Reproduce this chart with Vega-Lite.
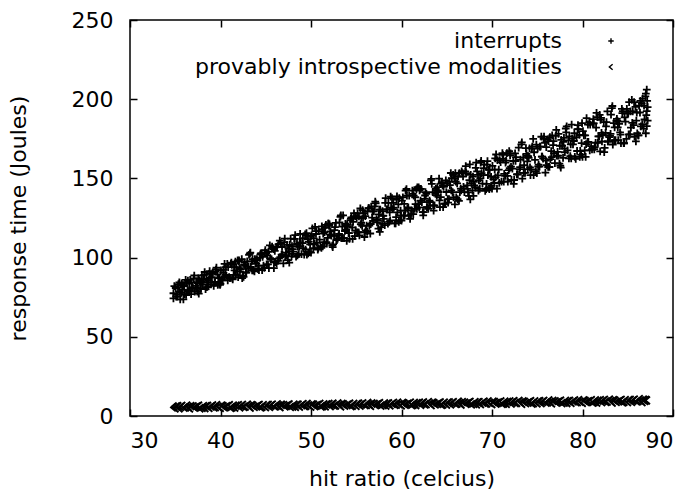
{
  "$schema": "https://vega.github.io/schema/vega-lite/v6.json",
  "width": 543,
  "height": 396,
  "autosize": {"type": "none"},
  "padding": {"left": 130, "top": 20, "right": 22, "bottom": 80},
  "background": "white",
  "config": {
    "font": "DejaVu Sans",
    "view": {"stroke": "black", "strokeWidth": 1.5},
    "axis": {
      "grid": false,
      "domain": false,
      "tickColor": "black",
      "tickSize": -7,
      "tickWidth": 1.5,
      "labelFont": "DejaVu Sans",
      "labelFontSize": 22,
      "labelColor": "black",
      "titleFont": "DejaVu Sans",
      "titleFontSize": 22,
      "titleFontWeight": "normal",
      "titleColor": "black"
    }
  },
  "datasets": {
    "interrupts": [
      {"x":34.8,"y":77.5},{"x":34.9,"y":82.0},{"x":34.8,"y":74.2},
      {"x":35.1,"y":75.4},{"x":35.3,"y":81.4},{"x":35.5,"y":78.4},{"x":35.7,"y":83.8},{"x":35.9,"y":73.6},
      {"x":36.0,"y":82.4},{"x":36.2,"y":76.4},{"x":36.4,"y":85.4},{"x":36.6,"y":79.4},{"x":36.8,"y":84.2},
      {"x":37.1,"y":88.7},{"x":37.3,"y":80.9},{"x":37.5,"y":83.9},{"x":37.6,"y":77.3},{"x":37.9,"y":85.1},
      {"x":38.0,"y":84.3},{"x":38.2,"y":89.1},{"x":38.5,"y":81.3},{"x":38.7,"y":85.5},{"x":38.8,"y":91.5},
      {"x":39.1,"y":90.0},{"x":39.4,"y":84.6},{"x":39.5,"y":92.4},{"x":39.7,"y":82.8},{"x":39.9,"y":87.0},
      {"x":40.0,"y":83.5},{"x":40.3,"y":90.5},{"x":40.4,"y":87.7},{"x":40.6,"y":94.0},{"x":40.8,"y":85.6},
      {"x":41.2,"y":96.8},{"x":41.3,"y":87.0},{"x":41.5,"y":94.0},{"x":41.7,"y":89.1},{"x":41.9,"y":98.2},
      {"x":42.0,"y":97.6},{"x":42.1,"y":93.4},{"x":42.4,"y":87.1},{"x":42.6,"y":95.5},{"x":42.8,"y":90.6},
      {"x":43.1,"y":94.1},{"x":43.3,"y":103.2},{"x":43.5,"y":92.0},{"x":43.8,"y":99.0},{"x":43.9,"y":96.2},
      {"x":44.0,"y":99.1},{"x":44.2,"y":94.9},{"x":44.4,"y":101.9},{"x":44.6,"y":92.1},{"x":44.9,"y":103.3},
      {"x":45.1,"y":95.7},{"x":45.3,"y":103.7},{"x":45.5,"y":99.7},{"x":45.7,"y":106.9},{"x":45.9,"y":93.3},
      {"x":46.0,"y":104.3},{"x":46.2,"y":96.3},{"x":46.4,"y":108.3},{"x":46.6,"y":100.3},{"x":46.8,"y":106.7},
      {"x":47.1,"y":112.0},{"x":47.3,"y":101.6},{"x":47.5,"y":105.6},{"x":47.6,"y":96.8},{"x":47.9,"y":107.2},
      {"x":48.0,"y":105.4},{"x":48.2,"y":111.8},{"x":48.5,"y":101.4},{"x":48.7,"y":107.0},{"x":48.8,"y":115.0},
      {"x":49.1,"y":112.3},{"x":49.4,"y":105.1},{"x":49.5,"y":115.5},{"x":49.7,"y":102.7},{"x":49.9,"y":108.3},
      {"x":50.0,"y":103.2},{"x":50.3,"y":112.2},{"x":50.4,"y":108.6},{"x":50.6,"y":116.7},{"x":50.8,"y":105.9},
      {"x":51.2,"y":119.7},{"x":51.3,"y":107.1},{"x":51.5,"y":116.1},{"x":51.7,"y":109.8},{"x":51.9,"y":121.5},
      {"x":52.0,"y":120.1},{"x":52.1,"y":114.7},{"x":52.4,"y":106.6},{"x":52.6,"y":117.4},{"x":52.8,"y":111.1},
      {"x":53.1,"y":115.0},{"x":53.3,"y":126.7},{"x":53.5,"y":112.3},{"x":53.8,"y":121.3},{"x":53.9,"y":117.7},
      {"x":54.0,"y":120.8},{"x":54.2,"y":115.4},{"x":54.4,"y":124.4},{"x":54.6,"y":111.8},{"x":54.9,"y":126.2},
      {"x":55.1,"y":116.0},{"x":55.3,"y":126.0},{"x":55.5,"y":121.0},{"x":55.7,"y":130.0},{"x":55.9,"y":113.0},
      {"x":56.0,"y":126.2},{"x":56.2,"y":116.2},{"x":56.4,"y":131.2},{"x":56.6,"y":121.2},{"x":56.8,"y":129.2},
      {"x":57.1,"y":135.3},{"x":57.3,"y":122.3},{"x":57.5,"y":127.3},{"x":57.6,"y":116.3},{"x":57.9,"y":129.3},
      {"x":58.0,"y":126.5},{"x":58.2,"y":134.5},{"x":58.5,"y":121.5},{"x":58.7,"y":128.5},{"x":58.8,"y":138.5},
      {"x":59.1,"y":134.6},{"x":59.4,"y":125.6},{"x":59.5,"y":138.6},{"x":59.7,"y":122.6},{"x":59.9,"y":129.6},
      {"x":60.0,"y":123.3},{"x":60.3,"y":133.9},{"x":60.4,"y":129.6},{"x":60.6,"y":139.1},{"x":60.8,"y":126.5},
      {"x":61.2,"y":142.3},{"x":61.3,"y":127.5},{"x":61.5,"y":138.1},{"x":61.7,"y":130.7},{"x":61.9,"y":144.4},
      {"x":62.0,"y":142.4},{"x":62.1,"y":136.0},{"x":62.4,"y":126.6},{"x":62.6,"y":139.2},{"x":62.8,"y":131.8},
      {"x":63.1,"y":136.0},{"x":63.3,"y":149.7},{"x":63.5,"y":132.9},{"x":63.8,"y":143.4},{"x":63.9,"y":139.2},
      {"x":64.0,"y":142.5},{"x":64.2,"y":136.1},{"x":64.4,"y":146.7},{"x":64.6,"y":131.9},{"x":64.9,"y":148.8},
      {"x":65.1,"y":136.9},{"x":65.3,"y":147.9},{"x":65.5,"y":142.4},{"x":65.7,"y":152.3},{"x":65.9,"y":133.6},
      {"x":66.0,"y":147.9},{"x":66.2,"y":136.9},{"x":66.4,"y":153.4},{"x":66.6,"y":142.4},{"x":66.8,"y":151.2},
      {"x":67.1,"y":157.7},{"x":67.3,"y":143.4},{"x":67.5,"y":148.9},{"x":67.6,"y":136.8},{"x":67.9,"y":151.1},
      {"x":68.0,"y":147.8},{"x":68.2,"y":156.6},{"x":68.5,"y":142.3},{"x":68.7,"y":150.0},{"x":68.8,"y":161.0},
      {"x":69.1,"y":156.5},{"x":69.4,"y":146.6},{"x":69.5,"y":160.9},{"x":69.7,"y":143.3},{"x":69.9,"y":151.0},
      {"x":70.0,"y":143.5},{"x":70.3,"y":155.5},{"x":70.4,"y":150.7},{"x":70.6,"y":161.5},{"x":70.8,"y":147.1},
      {"x":71.2,"y":164.8},{"x":71.3,"y":148.0},{"x":71.5,"y":160.0},{"x":71.7,"y":151.6},{"x":71.9,"y":167.2},
      {"x":72.0,"y":164.6},{"x":72.1,"y":157.4},{"x":72.4,"y":146.6},{"x":72.6,"y":161.0},{"x":72.8,"y":152.6},
      {"x":73.1,"y":157.1},{"x":73.3,"y":172.7},{"x":73.5,"y":153.5},{"x":73.8,"y":165.5},{"x":73.9,"y":160.7},
      {"x":74.0,"y":164.1},{"x":74.2,"y":156.9},{"x":74.4,"y":168.9},{"x":74.6,"y":152.1},{"x":74.9,"y":171.3},
      {"x":75.1,"y":157.5},{"x":75.3,"y":170.0},{"x":75.5,"y":163.7},{"x":75.7,"y":175.0},{"x":75.9,"y":153.7},
      {"x":76.0,"y":169.7},{"x":76.2,"y":157.2},{"x":76.4,"y":176.0},{"x":76.6,"y":163.4},{"x":76.8,"y":173.5},
      {"x":77.1,"y":180.6},{"x":77.3,"y":164.3},{"x":77.5,"y":170.6},{"x":77.6,"y":156.8},{"x":77.9,"y":173.1},
      {"x":78.0,"y":169.0},{"x":78.2,"y":179.0},{"x":78.5,"y":162.7},{"x":78.7,"y":171.5},{"x":78.8,"y":184.0},
      {"x":79.1,"y":178.6},{"x":79.4,"y":167.3},{"x":79.5,"y":183.6},{"x":79.7,"y":163.6},{"x":79.9,"y":172.3},
      {"x":80.0,"y":163.6},{"x":80.3,"y":177.2},{"x":80.4,"y":171.7},{"x":80.6,"y":183.9},{"x":80.8,"y":167.7},
      {"x":81.2,"y":187.4},{"x":81.3,"y":168.4},{"x":81.5,"y":182.0},{"x":81.7,"y":172.5},{"x":81.9,"y":190.1},
      {"x":82.0,"y":186.9},{"x":82.1,"y":178.7},{"x":82.4,"y":166.6},{"x":82.6,"y":182.8},{"x":82.8,"y":173.3},
      {"x":83.1,"y":178.1},{"x":83.3,"y":195.7},{"x":83.5,"y":174.1},{"x":83.8,"y":187.6},{"x":83.9,"y":182.2},
      {"x":84.0,"y":185.8},{"x":84.2,"y":177.6},{"x":84.4,"y":191.2},{"x":84.6,"y":172.2},{"x":84.9,"y":193.9},
      {"x":85.1,"y":177.8},{"x":85.3,"y":192.3},{"x":85.5,"y":185.0},{"x":85.7,"y":198.1},{"x":85.9,"y":173.4},
      {"x":86.0,"y":191.6},{"x":86.2,"y":177.1},{"x":86.4,"y":198.9},{"x":86.6,"y":184.3},{"x":86.8,"y":196.0},
      {"x":87.0,"y":203.5},{"x":87.1,"y":183.0},{"x":87.2,"y":195.0},{"x":87.0,"y":178.5},{"x":87.1,"y":206.0},
      {"x":35.05,"y":80.8},{"x":35.25,"y":75.4},{"x":35.45,"y":84.4},{"x":35.65,"y":77.8},{"x":35.85,"y":82.6},
      {"x":36.05,"y":77.0},{"x":36.25,"y":84.2},{"x":36.45,"y":78.8},{"x":36.65,"y":86.0},{"x":36.85,"y":80.6},
      {"x":37.05,"y":86.9},{"x":37.25,"y":82.1},{"x":37.45,"y":78.5},{"x":37.65,"y":85.7},{"x":37.85,"y":80.3},
      {"x":38.05,"y":83.1},{"x":38.25,"y":90.9},{"x":38.45,"y":86.7},{"x":38.65,"y":81.9},{"x":38.85,"y":87.3},
      {"x":39.05,"y":87.6},{"x":39.25,"y":82.2},{"x":39.45,"y":91.2},{"x":39.65,"y":89.4},{"x":39.85,"y":83.4},
      {"x":40.05,"y":91.9},{"x":40.25,"y":85.6},{"x":40.45,"y":96.1},{"x":40.65,"y":88.4},{"x":40.85,"y":94.0},
      {"x":41.05,"y":87.0},{"x":41.25,"y":95.4},{"x":41.45,"y":89.1},{"x":41.65,"y":97.5},{"x":41.85,"y":91.2},
      {"x":42.05,"y":98.3},{"x":42.25,"y":92.7},{"x":42.45,"y":88.5},{"x":42.65,"y":96.9},{"x":42.85,"y":90.6},
      {"x":43.05,"y":93.4},{"x":43.25,"y":102.5},{"x":43.45,"y":97.6},{"x":43.65,"y":92.0},{"x":43.85,"y":98.3},
      {"x":44.05,"y":98.4},{"x":44.25,"y":92.1},{"x":44.45,"y":102.6},{"x":44.65,"y":100.5},{"x":44.85,"y":93.5},
      {"x":45.05,"y":102.9},{"x":45.25,"y":95.7},{"x":45.45,"y":107.7},{"x":45.65,"y":98.9},{"x":45.85,"y":105.3},
      {"x":46.05,"y":97.1},{"x":46.25,"y":106.7},{"x":46.45,"y":99.5},{"x":46.65,"y":109.1},{"x":46.85,"y":101.9},
      {"x":47.05,"y":109.6},{"x":47.25,"y":103.2},{"x":47.45,"y":98.4},{"x":47.65,"y":108.0},{"x":47.85,"y":100.8},
      {"x":48.05,"y":103.8},{"x":48.25,"y":114.2},{"x":48.45,"y":108.6},{"x":48.65,"y":102.2},{"x":48.85,"y":109.4},
      {"x":49.05,"y":109.1},{"x":49.25,"y":101.9},{"x":49.45,"y":113.9},{"x":49.65,"y":111.5},{"x":49.85,"y":103.5},
      {"x":50.05,"y":114.0},{"x":50.25,"y":105.9},{"x":50.45,"y":119.4},{"x":50.65,"y":109.5},{"x":50.85,"y":116.7},
      {"x":51.05,"y":107.1},{"x":51.25,"y":117.9},{"x":51.45,"y":109.8},{"x":51.65,"y":120.6},{"x":51.85,"y":112.5},
      {"x":52.05,"y":121.0},{"x":52.25,"y":113.8},{"x":52.45,"y":108.4},{"x":52.65,"y":119.2},{"x":52.85,"y":111.1},
      {"x":53.05,"y":114.1},{"x":53.25,"y":125.8},{"x":53.45,"y":119.5},{"x":53.65,"y":112.3},{"x":53.85,"y":120.4},
      {"x":54.05,"y":119.9},{"x":54.25,"y":111.8},{"x":54.45,"y":125.3},{"x":54.65,"y":122.6},{"x":54.85,"y":113.6},
      {"x":55.05,"y":125.0},{"x":55.25,"y":116.0},{"x":55.45,"y":131.0},{"x":55.65,"y":120.0},{"x":55.85,"y":128.0},
      {"x":56.05,"y":117.2},{"x":56.25,"y":129.2},{"x":56.45,"y":120.2},{"x":56.65,"y":132.2},{"x":56.85,"y":123.2},
      {"x":57.05,"y":132.3},{"x":57.25,"y":124.3},{"x":57.45,"y":118.3},{"x":57.65,"y":130.3},{"x":57.85,"y":121.3},
      {"x":58.05,"y":124.5},{"x":58.25,"y":137.5},{"x":58.45,"y":130.5},{"x":58.65,"y":122.5},{"x":58.85,"y":131.5},
      {"x":59.05,"y":130.6},{"x":59.25,"y":121.6},{"x":59.45,"y":136.6},{"x":59.65,"y":133.6},{"x":59.85,"y":123.6},
      {"x":60.05,"y":136.0},{"x":60.25,"y":126.5},{"x":60.45,"y":142.3},{"x":60.65,"y":130.7},{"x":60.85,"y":139.1},
      {"x":61.05,"y":127.5},{"x":61.25,"y":140.2},{"x":61.45,"y":130.7},{"x":61.65,"y":143.3},{"x":61.85,"y":133.8},
      {"x":62.05,"y":143.4},{"x":62.25,"y":135.0},{"x":62.45,"y":128.7},{"x":62.65,"y":141.3},{"x":62.85,"y":131.8},
      {"x":63.05,"y":135.0},{"x":63.25,"y":148.7},{"x":63.45,"y":141.3},{"x":63.65,"y":132.9},{"x":63.85,"y":142.4},
      {"x":64.05,"y":141.4},{"x":64.25,"y":131.9},{"x":64.45,"y":147.7},{"x":64.65,"y":144.6},{"x":64.85,"y":134.0},
      {"x":65.05,"y":146.8},{"x":65.25,"y":136.9},{"x":65.45,"y":153.4},{"x":65.65,"y":141.3},{"x":65.85,"y":150.1},
      {"x":66.05,"y":138.0},{"x":66.25,"y":151.2},{"x":66.45,"y":141.3},{"x":66.65,"y":154.5},{"x":66.85,"y":144.6},
      {"x":67.05,"y":154.4},{"x":67.25,"y":145.6},{"x":67.45,"y":139.0},{"x":67.65,"y":152.2},{"x":67.85,"y":142.3},
      {"x":68.05,"y":145.6},{"x":68.25,"y":159.9},{"x":68.45,"y":152.2},{"x":68.65,"y":143.4},{"x":68.85,"y":153.3},
      {"x":69.05,"y":152.1},{"x":69.25,"y":142.2},{"x":69.45,"y":158.7},{"x":69.65,"y":155.4},{"x":69.85,"y":144.4},
      {"x":70.05,"y":157.9},{"x":70.25,"y":147.1},{"x":70.45,"y":165.1},{"x":70.65,"y":151.9},{"x":70.85,"y":161.5},
      {"x":71.05,"y":148.0},{"x":71.25,"y":162.4},{"x":71.45,"y":151.6},{"x":71.65,"y":166.0},{"x":71.85,"y":155.2},
      {"x":72.05,"y":165.8},{"x":72.25,"y":156.2},{"x":72.45,"y":149.0},{"x":72.65,"y":163.4},{"x":72.85,"y":152.6},
      {"x":73.05,"y":155.9},{"x":73.25,"y":171.5},{"x":73.45,"y":163.1},{"x":73.65,"y":153.5},{"x":73.85,"y":164.3},
      {"x":74.05,"y":162.9},{"x":74.25,"y":152.1},{"x":74.45,"y":170.1},{"x":74.65,"y":166.5},{"x":74.85,"y":154.5},
      {"x":75.05,"y":168.8},{"x":75.25,"y":157.5},{"x":75.45,"y":176.3},{"x":75.65,"y":162.5},{"x":75.85,"y":172.5},
      {"x":76.05,"y":158.4},{"x":76.25,"y":173.5},{"x":76.45,"y":162.2},{"x":76.65,"y":177.2},{"x":76.85,"y":165.9},
      {"x":77.05,"y":176.8},{"x":77.25,"y":166.8},{"x":77.45,"y":159.3},{"x":77.65,"y":174.3},{"x":77.85,"y":163.0},
      {"x":78.05,"y":166.5},{"x":78.25,"y":182.8},{"x":78.45,"y":174.0},{"x":78.65,"y":164.0},{"x":78.85,"y":175.3},
      {"x":79.05,"y":173.6},{"x":79.25,"y":162.3},{"x":79.45,"y":181.1},{"x":79.65,"y":177.4},{"x":79.85,"y":164.8},
      {"x":80.05,"y":179.9},{"x":80.25,"y":167.7},{"x":80.45,"y":188.0},{"x":80.65,"y":173.1},{"x":80.85,"y":183.9},
      {"x":81.05,"y":168.4},{"x":81.25,"y":184.7},{"x":81.45,"y":172.5},{"x":81.65,"y":188.7},{"x":81.85,"y":176.5},
      {"x":82.05,"y":188.2},{"x":82.25,"y":177.4},{"x":82.45,"y":169.3},{"x":82.65,"y":185.5},{"x":82.85,"y":173.3},
      {"x":83.05,"y":176.8},{"x":83.25,"y":194.4},{"x":83.45,"y":184.9},{"x":83.65,"y":174.1},{"x":83.85,"y":186.3},
      {"x":84.05,"y":184.4},{"x":84.25,"y":172.2},{"x":84.45,"y":192.5},{"x":84.65,"y":188.5},{"x":84.85,"y":174.9},
      {"x":85.05,"y":190.9},{"x":85.25,"y":177.8},{"x":85.45,"y":199.6},{"x":85.65,"y":183.6},{"x":85.85,"y":195.2},
      {"x":86.05,"y":178.5},{"x":86.25,"y":196.0},{"x":86.45,"y":182.9},{"x":86.65,"y":200.3},{"x":86.85,"y":187.2},
      {"x":87.05,"y":190.0},{"x":87.15,"y":199.0},{"x":87.2,"y":186.5},
      {"x":35.15,"y":76.6},{"x":35.35,"y":83.2},{"x":35.55,"y":73.6},{"x":35.75,"y":79.6},{"x":35.95,"y":82.0},
      {"x":36.15,"y":86.0},{"x":36.35,"y":79.4},{"x":36.55,"y":83.6},{"x":36.75,"y":77.0},{"x":36.95,"y":81.2},
      {"x":37.15,"y":78.5},{"x":37.35,"y":84.5},{"x":37.55,"y":86.9},{"x":37.75,"y":80.3},{"x":37.95,"y":88.7},
      {"x":38.15,"y":86.1},{"x":38.35,"y":80.1},{"x":38.55,"y":84.3},{"x":38.75,"y":89.7},{"x":38.95,"y":83.1},
      {"x":39.15,"y":90.6},{"x":39.35,"y":84.0},{"x":39.55,"y":93.6},{"x":39.75,"y":87.0},{"x":39.95,"y":82.8},
      {"x":40.15,"y":86.3},{"x":40.35,"y":92.6},{"x":40.55,"y":89.1},{"x":40.75,"y":96.1},{"x":40.95,"y":87.7},
      {"x":41.15,"y":96.1},{"x":41.35,"y":86.3},{"x":41.55,"y":91.9},{"x":41.75,"y":94.0},{"x":41.95,"y":87.7},
      {"x":42.15,"y":91.3},{"x":42.35,"y":99.0},{"x":42.55,"y":87.8},{"x":42.75,"y":94.8},{"x":42.95,"y":97.6},
      {"x":43.15,"y":101.8},{"x":43.35,"y":94.1},{"x":43.55,"y":99.0},{"x":43.75,"y":91.3},{"x":43.95,"y":96.2},
      {"x":44.15,"y":92.8},{"x":44.35,"y":99.8},{"x":44.55,"y":102.6},{"x":44.75,"y":94.9},{"x":44.95,"y":104.7},
      {"x":45.15,"y":101.3},{"x":45.35,"y":93.3},{"x":45.55,"y":98.9},{"x":45.75,"y":106.1},{"x":45.95,"y":97.3},
      {"x":46.15,"y":106.7},{"x":46.35,"y":97.9},{"x":46.55,"y":110.7},{"x":46.75,"y":101.9},{"x":46.95,"y":96.3},
      {"x":47.15,"y":100.8},{"x":47.35,"y":108.0},{"x":47.55,"y":104.0},{"x":47.75,"y":112.0},{"x":47.95,"y":102.4},
      {"x":48.15,"y":111.8},{"x":48.35,"y":100.6},{"x":48.55,"y":107.0},{"x":48.75,"y":109.4},{"x":48.95,"y":102.2},
      {"x":49.15,"y":105.9},{"x":49.35,"y":114.7},{"x":49.55,"y":101.9},{"x":49.75,"y":109.9},{"x":49.95,"y":113.1},
      {"x":50.15,"y":118.5},{"x":50.35,"y":108.6},{"x":50.55,"y":114.9},{"x":50.75,"y":105.0},{"x":50.95,"y":111.3},
      {"x":51.15,"y":106.2},{"x":51.35,"y":115.2},{"x":51.55,"y":118.8},{"x":51.75,"y":108.9},{"x":51.95,"y":121.5},
      {"x":52.15,"y":116.5},{"x":52.35,"y":107.5},{"x":52.55,"y":113.8},{"x":52.75,"y":121.9},{"x":52.95,"y":112.0},
      {"x":53.15,"y":122.2},{"x":53.35,"y":112.3},{"x":53.55,"y":126.7},{"x":53.75,"y":116.8},{"x":53.95,"y":110.5},
      {"x":54.15,"y":115.4},{"x":54.35,"y":123.5},{"x":54.55,"y":119.0},{"x":54.75,"y":128.0},{"x":54.95,"y":117.2},
      {"x":55.15,"y":128.0},{"x":55.35,"y":114.0},{"x":55.55,"y":122.0},{"x":55.75,"y":125.0},{"x":55.95,"y":116.0},
      {"x":56.15,"y":120.2},{"x":56.35,"y":131.2},{"x":56.55,"y":115.2},{"x":56.75,"y":125.2},{"x":56.95,"y":129.2},
      {"x":57.15,"y":134.3},{"x":57.35,"y":123.3},{"x":57.55,"y":130.3},{"x":57.75,"y":119.3},{"x":57.95,"y":126.3},
      {"x":58.15,"y":120.5},{"x":58.35,"y":130.5},{"x":58.55,"y":134.5},{"x":58.75,"y":123.5},{"x":58.95,"y":137.5},
      {"x":59.15,"y":131.6},{"x":59.35,"y":121.6},{"x":59.55,"y":128.6},{"x":59.75,"y":137.6},{"x":59.95,"y":126.6},
      {"x":60.15,"y":138.1},{"x":60.35,"y":126.5},{"x":60.55,"y":143.3},{"x":60.75,"y":131.7},{"x":60.95,"y":124.4},
      {"x":61.15,"y":129.6},{"x":61.35,"y":139.1},{"x":61.55,"y":133.8},{"x":61.75,"y":144.4},{"x":61.95,"y":131.7},
      {"x":62.15,"y":143.4},{"x":62.35,"y":128.7},{"x":62.55,"y":137.1},{"x":62.75,"y":140.3},{"x":62.95,"y":130.8},
      {"x":63.15,"y":135.0},{"x":63.35,"y":146.6},{"x":63.55,"y":129.7},{"x":63.75,"y":140.3},{"x":63.95,"y":144.5},
      {"x":64.15,"y":149.8},{"x":64.35,"y":138.2},{"x":64.55,"y":145.6},{"x":64.75,"y":134.0},{"x":64.95,"y":141.4},
      {"x":65.15,"y":134.7},{"x":65.35,"y":145.7},{"x":65.55,"y":150.1},{"x":65.75,"y":138.0},{"x":65.95,"y":153.4},
      {"x":66.15,"y":146.8},{"x":66.35,"y":135.8},{"x":66.55,"y":143.5},{"x":66.75,"y":153.4},{"x":66.95,"y":141.3},
      {"x":67.15,"y":153.3},{"x":67.35,"y":141.2},{"x":67.55,"y":158.8},{"x":67.75,"y":146.7},{"x":67.95,"y":139.0},
      {"x":68.15,"y":144.5},{"x":68.35,"y":154.4},{"x":68.55,"y":148.9},{"x":68.75,"y":159.9},{"x":68.95,"y":146.7},
      {"x":69.15,"y":158.7},{"x":69.35,"y":143.3},{"x":69.55,"y":152.1},{"x":69.75,"y":155.4},{"x":69.95,"y":145.5},
      {"x":70.15,"y":149.5},{"x":70.35,"y":162.7},{"x":70.55,"y":143.5},{"x":70.75,"y":155.5},{"x":70.95,"y":160.3},
      {"x":71.15,"y":166.0},{"x":71.35,"y":152.8},{"x":71.55,"y":161.2},{"x":71.75,"y":148.0},{"x":71.95,"y":156.4},
      {"x":72.15,"y":149.0},{"x":72.35,"y":161.0},{"x":72.55,"y":165.8},{"x":72.75,"y":152.6},{"x":72.95,"y":169.4},
      {"x":73.15,"y":161.9},{"x":73.35,"y":149.9},{"x":73.55,"y":158.3},{"x":73.75,"y":169.1},{"x":73.95,"y":155.9},
      {"x":74.15,"y":168.9},{"x":74.35,"y":155.7},{"x":74.55,"y":174.9},{"x":74.75,"y":161.7},{"x":74.95,"y":153.3},
      {"x":75.15,"y":158.7},{"x":75.35,"y":170.0},{"x":75.55,"y":163.7},{"x":75.75,"y":176.3},{"x":75.95,"y":161.2},
      {"x":76.15,"y":174.7},{"x":76.35,"y":157.2},{"x":76.55,"y":167.2},{"x":76.75,"y":171.0},{"x":76.95,"y":159.7},
      {"x":77.15,"y":164.3},{"x":77.35,"y":178.1},{"x":77.55,"y":158.0},{"x":77.75,"y":170.6},{"x":77.95,"y":175.6},
      {"x":78.15,"y":181.5},{"x":78.35,"y":167.7},{"x":78.55,"y":176.5},{"x":78.75,"y":162.7},{"x":78.95,"y":171.5},
      {"x":79.15,"y":163.6},{"x":79.35,"y":176.1},{"x":79.55,"y":181.1},{"x":79.75,"y":167.3},{"x":79.95,"y":184.9},
      {"x":80.15,"y":177.2},{"x":80.35,"y":163.6},{"x":80.55,"y":173.1},{"x":80.75,"y":185.3},{"x":80.95,"y":170.4},
      {"x":81.15,"y":184.7},{"x":81.35,"y":169.8},{"x":81.55,"y":191.4},{"x":81.75,"y":176.5},{"x":81.95,"y":167.1},
      {"x":82.15,"y":173.3},{"x":82.35,"y":185.5},{"x":82.55,"y":178.7},{"x":82.75,"y":192.3},{"x":82.95,"y":176.0},
      {"x":83.15,"y":190.3},{"x":83.35,"y":171.4},{"x":83.55,"y":182.2},{"x":83.75,"y":186.3},{"x":83.95,"y":174.1},
      {"x":84.15,"y":179.0},{"x":84.35,"y":193.9},{"x":84.55,"y":172.2},{"x":84.75,"y":185.8},{"x":84.95,"y":191.2},
      {"x":85.15,"y":198.1},{"x":85.35,"y":182.1},{"x":85.55,"y":192.3},{"x":85.75,"y":176.3},{"x":85.95,"y":186.5},
      {"x":86.15,"y":177.1},{"x":86.35,"y":191.6},{"x":86.55,"y":197.4},{"x":86.75,"y":181.4},{"x":86.95,"y":201.8},
      {"x":87.1,"y":192.5}
    ],
    "modalities": [
      {"x":34.8,"y":5.4},{"x":34.9,"y":6.0},
      {"x":35.1,"y":4.8},{"x":35.4,"y":6.2},{"x":35.7,"y":5.7},
      {"x":36.1,"y":5.3},{"x":36.4,"y":6.6},{"x":36.7,"y":4.8},
      {"x":37.1,"y":6.1},{"x":37.4,"y":5.6},{"x":37.7,"y":6.5},
      {"x":38.1,"y":5.2},{"x":38.4,"y":5.0},{"x":38.7,"y":6.4},
      {"x":39.1,"y":6.0},{"x":39.4,"y":5.5},{"x":39.7,"y":6.8},
      {"x":40.1,"y":5.1},{"x":40.4,"y":6.3},{"x":40.7,"y":5.8},
      {"x":41.1,"y":6.8},{"x":41.4,"y":5.5},{"x":41.7,"y":5.3},
      {"x":42.1,"y":6.8},{"x":42.4,"y":6.3},{"x":42.7,"y":5.8},
      {"x":43.1,"y":7.1},{"x":43.4,"y":5.3},{"x":43.7,"y":6.5},
      {"x":44.1,"y":6.1},{"x":44.4,"y":7.0},{"x":44.7,"y":5.7},
      {"x":45.1,"y":5.6},{"x":45.4,"y":7.0},{"x":45.7,"y":6.5},
      {"x":46.1,"y":6.1},{"x":46.4,"y":7.4},{"x":46.7,"y":5.6},
      {"x":47.1,"y":6.9},{"x":47.4,"y":6.4},{"x":47.7,"y":7.3},
      {"x":48.1,"y":6.0},{"x":48.4,"y":5.8},{"x":48.7,"y":7.2},
      {"x":49.1,"y":6.8},{"x":49.4,"y":6.3},{"x":49.7,"y":7.6},
      {"x":50.1,"y":5.9},{"x":50.4,"y":7.1},{"x":50.7,"y":6.6},
      {"x":51.1,"y":7.6},{"x":51.4,"y":6.3},{"x":51.7,"y":6.1},
      {"x":52.1,"y":7.6},{"x":52.4,"y":7.1},{"x":52.7,"y":6.6},
      {"x":53.1,"y":7.9},{"x":53.4,"y":6.1},{"x":53.7,"y":7.3},
      {"x":54.1,"y":6.9},{"x":54.4,"y":7.8},{"x":54.7,"y":6.5},
      {"x":55.1,"y":6.4},{"x":55.4,"y":7.8},{"x":55.7,"y":7.3},
      {"x":56.1,"y":6.9},{"x":56.4,"y":8.2},{"x":56.7,"y":6.4},
      {"x":57.1,"y":7.7},{"x":57.4,"y":7.2},{"x":57.7,"y":8.1},
      {"x":58.1,"y":6.8},{"x":58.4,"y":6.6},{"x":58.7,"y":8.0},
      {"x":59.1,"y":7.6},{"x":59.4,"y":7.1},{"x":59.7,"y":8.4},
      {"x":60.1,"y":6.7},{"x":60.4,"y":7.9},{"x":60.7,"y":7.4},
      {"x":61.1,"y":8.4},{"x":61.4,"y":7.1},{"x":61.7,"y":6.9},
      {"x":62.1,"y":8.4},{"x":62.4,"y":7.9},{"x":62.7,"y":7.4},
      {"x":63.1,"y":8.7},{"x":63.4,"y":6.9},{"x":63.7,"y":8.1},
      {"x":64.1,"y":7.7},{"x":64.4,"y":8.6},{"x":64.7,"y":7.3},
      {"x":65.1,"y":7.2},{"x":65.4,"y":8.6},{"x":65.7,"y":8.1},
      {"x":66.1,"y":7.7},{"x":66.4,"y":9.0},{"x":66.7,"y":7.2},
      {"x":67.1,"y":8.5},{"x":67.4,"y":8.0},{"x":67.7,"y":8.9},
      {"x":68.1,"y":7.6},{"x":68.4,"y":7.4},{"x":68.7,"y":8.8},
      {"x":69.1,"y":8.4},{"x":69.4,"y":7.9},{"x":69.7,"y":9.2},
      {"x":70.1,"y":7.5},{"x":70.4,"y":8.7},{"x":70.7,"y":8.2},
      {"x":71.1,"y":9.2},{"x":71.4,"y":7.9},{"x":71.7,"y":7.7},
      {"x":72.1,"y":9.2},{"x":72.4,"y":8.7},{"x":72.7,"y":8.2},
      {"x":73.1,"y":9.5},{"x":73.4,"y":7.7},{"x":73.7,"y":8.9},
      {"x":74.1,"y":8.5},{"x":74.4,"y":9.4},{"x":74.7,"y":8.1},
      {"x":75.1,"y":8.0},{"x":75.4,"y":9.4},{"x":75.7,"y":8.9},
      {"x":76.1,"y":8.5},{"x":76.4,"y":9.8},{"x":76.7,"y":8.0},
      {"x":77.1,"y":9.3},{"x":77.4,"y":8.8},{"x":77.7,"y":9.7},
      {"x":78.1,"y":8.4},{"x":78.4,"y":8.2},{"x":78.7,"y":9.6},
      {"x":79.1,"y":9.2},{"x":79.4,"y":8.7},{"x":79.7,"y":10.0},
      {"x":80.1,"y":8.3},{"x":80.4,"y":9.5},{"x":80.7,"y":9.0},
      {"x":81.1,"y":10.0},{"x":81.4,"y":8.7},{"x":81.7,"y":8.5},
      {"x":82.1,"y":10.0},{"x":82.4,"y":9.5},{"x":82.7,"y":9.0},
      {"x":83.1,"y":10.3},{"x":83.4,"y":8.5},{"x":83.7,"y":9.7},
      {"x":84.1,"y":9.3},{"x":84.4,"y":10.2},{"x":84.7,"y":8.9},
      {"x":85.1,"y":8.8},{"x":85.4,"y":10.2},{"x":85.7,"y":9.7},
      {"x":86.1,"y":9.3},{"x":86.4,"y":10.6},{"x":86.7,"y":8.8},
      {"x":87.0,"y":9.6},{"x":87.1,"y":10.1},
      {"x":35.25,"y":6.0},{"x":35.55,"y":4.9},{"x":35.85,"y":6.4},
      {"x":36.25,"y":5.4},{"x":36.55,"y":5.7},{"x":36.85,"y":6.3},
      {"x":37.25,"y":5.3},{"x":37.55,"y":6.0},{"x":37.85,"y":4.9},
      {"x":38.25,"y":6.3},{"x":38.55,"y":6.2},{"x":38.85,"y":5.1},
      {"x":39.25,"y":6.7},{"x":39.55,"y":5.6},{"x":39.85,"y":5.9},
      {"x":40.25,"y":6.6},{"x":40.55,"y":5.5},{"x":40.85,"y":6.2},
      {"x":41.25,"y":5.2},{"x":41.55,"y":6.6},{"x":41.85,"y":6.5},
      {"x":42.25,"y":5.5},{"x":42.55,"y":7.0},{"x":42.85,"y":5.9},
      {"x":43.25,"y":6.2},{"x":43.55,"y":6.8},{"x":43.85,"y":5.7},
      {"x":44.25,"y":6.5},{"x":44.55,"y":5.4},{"x":44.85,"y":6.8},
      {"x":45.25,"y":6.8},{"x":45.55,"y":5.7},{"x":45.85,"y":7.2},
      {"x":46.25,"y":6.2},{"x":46.55,"y":6.5},{"x":46.85,"y":7.1},
      {"x":47.25,"y":6.1},{"x":47.55,"y":6.8},{"x":47.85,"y":5.7},
      {"x":48.25,"y":7.1},{"x":48.55,"y":7.0},{"x":48.85,"y":5.9},
      {"x":49.25,"y":7.5},{"x":49.55,"y":6.4},{"x":49.85,"y":6.7},
      {"x":50.25,"y":7.4},{"x":50.55,"y":6.3},{"x":50.85,"y":7.0},
      {"x":51.25,"y":6.0},{"x":51.55,"y":7.4},{"x":51.85,"y":7.3},
      {"x":52.25,"y":6.3},{"x":52.55,"y":7.8},{"x":52.85,"y":6.7},
      {"x":53.25,"y":7.0},{"x":53.55,"y":7.6},{"x":53.85,"y":6.5},
      {"x":54.25,"y":7.3},{"x":54.55,"y":6.2},{"x":54.85,"y":7.6},
      {"x":55.25,"y":7.6},{"x":55.55,"y":6.5},{"x":55.85,"y":8.0},
      {"x":56.25,"y":7.0},{"x":56.55,"y":7.3},{"x":56.85,"y":7.9},
      {"x":57.25,"y":6.9},{"x":57.55,"y":7.6},{"x":57.85,"y":6.5},
      {"x":58.25,"y":7.9},{"x":58.55,"y":7.8},{"x":58.85,"y":6.7},
      {"x":59.25,"y":8.3},{"x":59.55,"y":7.2},{"x":59.85,"y":7.5},
      {"x":60.25,"y":8.2},{"x":60.55,"y":7.1},{"x":60.85,"y":7.8},
      {"x":61.25,"y":6.8},{"x":61.55,"y":8.2},{"x":61.85,"y":8.1},
      {"x":62.25,"y":7.1},{"x":62.55,"y":8.6},{"x":62.85,"y":7.5},
      {"x":63.25,"y":7.8},{"x":63.55,"y":8.4},{"x":63.85,"y":7.3},
      {"x":64.25,"y":8.1},{"x":64.55,"y":7.0},{"x":64.85,"y":8.4},
      {"x":65.25,"y":8.4},{"x":65.55,"y":7.3},{"x":65.85,"y":8.8},
      {"x":66.25,"y":7.8},{"x":66.55,"y":8.1},{"x":66.85,"y":8.7},
      {"x":67.25,"y":7.7},{"x":67.55,"y":8.4},{"x":67.85,"y":7.3},
      {"x":68.25,"y":8.7},{"x":68.55,"y":8.6},{"x":68.85,"y":7.5},
      {"x":69.25,"y":9.1},{"x":69.55,"y":8.0},{"x":69.85,"y":8.3},
      {"x":70.25,"y":9.0},{"x":70.55,"y":7.9},{"x":70.85,"y":8.6},
      {"x":71.25,"y":7.6},{"x":71.55,"y":9.0},{"x":71.85,"y":8.9},
      {"x":72.25,"y":7.9},{"x":72.55,"y":9.4},{"x":72.85,"y":8.3},
      {"x":73.25,"y":8.6},{"x":73.55,"y":9.2},{"x":73.85,"y":8.1},
      {"x":74.25,"y":8.9},{"x":74.55,"y":7.8},{"x":74.85,"y":9.2},
      {"x":75.25,"y":9.2},{"x":75.55,"y":8.1},{"x":75.85,"y":9.6},
      {"x":76.25,"y":8.6},{"x":76.55,"y":8.9},{"x":76.85,"y":9.5},
      {"x":77.25,"y":8.5},{"x":77.55,"y":9.2},{"x":77.85,"y":8.1},
      {"x":78.25,"y":9.5},{"x":78.55,"y":9.4},{"x":78.85,"y":8.3},
      {"x":79.25,"y":9.9},{"x":79.55,"y":8.8},{"x":79.85,"y":9.1},
      {"x":80.25,"y":9.8},{"x":80.55,"y":8.7},{"x":80.85,"y":9.4},
      {"x":81.25,"y":8.4},{"x":81.55,"y":9.8},{"x":81.85,"y":9.7},
      {"x":82.25,"y":8.7},{"x":82.55,"y":10.2},{"x":82.85,"y":9.1},
      {"x":83.25,"y":9.4},{"x":83.55,"y":10.0},{"x":83.85,"y":8.9},
      {"x":84.25,"y":9.7},{"x":84.55,"y":8.6},{"x":84.85,"y":10.0},
      {"x":85.25,"y":10.0},{"x":85.55,"y":8.9},{"x":85.85,"y":10.4},
      {"x":86.25,"y":9.4},{"x":86.55,"y":9.7},{"x":86.85,"y":10.3},
      {"x":87.2,"y":9.8}
    ]
  },
  "layer": [
    {
      "data": {"name": "interrupts"},
      "mark": {"type": "point", "filled": false, "stroke": "black", "strokeWidth": 1.8, "size": 60, "opacity": 1},
      "encoding": {
        "x": {"field": "x", "type": "quantitative", "scale": {"domain": [30, 90], "nice": false, "zero": false},
          "axis": {"orient": "bottom", "title": "hit ratio (celcius)", "values": [30, 40, 50, 60, 70, 80, 90], "labelPadding": 21, "titleY": 62, "titleBaseline": "middle"}},
        "y": {"field": "y", "type": "quantitative", "scale": {"domain": [0, 250], "nice": false, "zero": false},
          "axis": {"orient": "left", "title": "response time (Joules)", "values": [0, 50, 100, 150, 200, 250], "labelPadding": 24, "titleX": -112, "titleY": 198, "titleBaseline": "middle", "titleAngle": -90}},
        "shape": {
          "datum": "interrupts",
          "scale": {"domain": ["interrupts", "provably introspective modalities"], "range": ["M-1,0H1M0,-1V1", "M0.6,-1L-0.6,0L0.6,1"]},
          "legend": {"title": null, "orient": "none", "legendX": 470, "legendY": 10, "labelAlign": "right", "labelOffset": -60, "labelLimit": 0, "labelFontSize": 22, "labelFont": "DejaVu Sans", "labelColor": "black", "symbolSize": 30, "symbolStrokeWidth": 1.4, "symbolStrokeColor": "black", "rowPadding": 4, "padding": 0}
        }
      }
    },
    {
      "data": {"name": "modalities"},
      "mark": {"type": "point", "filled": false, "stroke": "black", "strokeWidth": 2, "size": 60, "opacity": 1},
      "encoding": {
        "x": {"field": "x", "type": "quantitative", "scale": {"domain": [30, 90], "nice": false, "zero": false}, "axis": null},
        "y": {"field": "y", "type": "quantitative", "scale": {"domain": [0, 250], "nice": false, "zero": false}, "axis": null},
        "shape": {"datum": "provably introspective modalities"}
      }
    },
    {
      "data": {"name": "modalities"},
      "mark": {"type": "point", "opacity": 0, "size": 1},
      "encoding": {
        "x": {"field": "x", "type": "quantitative", "scale": {"domain": [30, 90], "nice": false, "zero": false},
          "axis": {"orient": "top", "title": null, "labels": false, "values": [30, 40, 50, 60, 70, 80, 90]}},
        "y": {"field": "y", "type": "quantitative", "scale": {"domain": [0, 250], "nice": false, "zero": false},
          "axis": {"orient": "right", "title": null, "labels": false, "values": [0, 50, 100, 150, 200, 250]}}
      }
    }
  ],
  "resolve": {"scale": {"x": "independent", "y": "independent"}}
}
